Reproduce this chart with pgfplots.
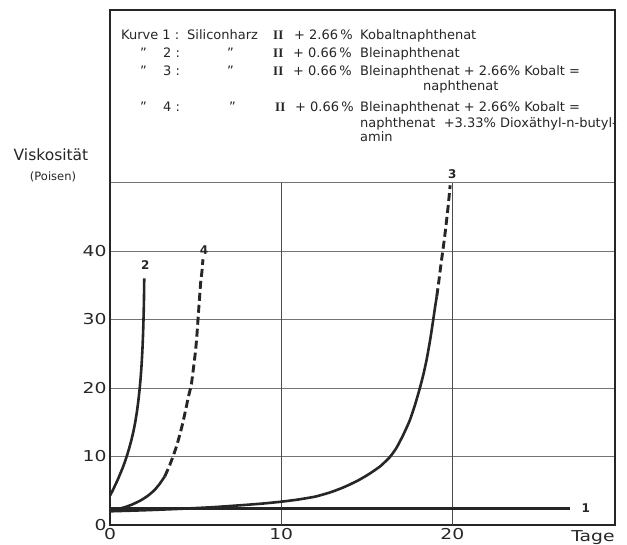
\documentclass[border=0pt]{standalone}
\usepackage{fontspec}
\setmainfont{DejaVu Sans}
\newfontfamily\romanfont{Liberation Serif}
\newfontfamily\tickfont{DejaVu Sans}[FakeStretch=1.25]
\usepackage{pgfplots}
\pgfplotsset{compat=1.18}
\newcommand\T[3]{\node[anchor=base west,inner sep=0pt,font=\fontsize{13}{15}\selectfont,text=black!85] at (#1,{545-#2}) {#3};}
\newcommand\RII{{\romanfont\bfseries II}}
\begin{document}
\begin{tikzpicture}[x=1pt,y=1pt]
\useasboundingbox (0,0) rectangle (627,545);
\begin{axis}[
  at={(110pt,20pt)}, anchor=south west,
  scale only axis, width=505pt, height=515pt,
  xmin=0, xmax=29.5, ymin=0, ymax=75.2,
  axis line style={line width=1.8pt, black!85},
  xtick={0,10,20}, ytick={0,10,20,30,40,50},
  yticklabels={0,10,20,30,40,},
  ymajorgrids, grid style={line width=1pt, black!55},
  major tick length=0pt,
  tick label style={font=\tickfont\fontsize{15}{15}\selectfont, text=black!85},
  /pgf/number format/assume math mode=true,
  clip=false,
]
\draw[black!70, line width=0.8pt] (axis cs:10,0) -- (axis cs:10,50);
\draw[black!70, line width=0.8pt] (axis cs:20,0) -- (axis cs:20,50);
% Kurve 1
\addplot[black!85, line width=2.6pt] coordinates {(0,2.4) (26.9,2.4)};
% Kurve 2
\addplot[black!85, line width=2.6pt, smooth, tension=0.3] coordinates {
(0,4.3) (0.15,5.0) (0.3,5.8) (0.45,6.6) (0.6,7.5) (0.75,8.4) (0.88,9.3) (1.0,10.2) (1.13,11.3) (1.26,12.5) (1.38,13.8) (1.48,15.1) (1.57,16.5) (1.65,18.0) (1.72,19.6) (1.78,21.2) (1.84,23.2) (1.89,25.4) (1.93,27.8) (1.96,30.3) (1.985,33) (2.0,36)};
% Kurve 4 solid
\addplot[black!85, line width=2.6pt, smooth, tension=0.3] coordinates {
(0,2.1) (0.4,2.3) (0.87,2.6) (1.3,3.0) (1.8,3.6) (2.23,4.3) (2.6,5.1) (2.9,6.0) (3.2,7.1)};
% Kurve 4 dashed
\addplot[black!85, line width=2.9pt, dash pattern=on 8pt off 4pt, smooth, tension=0.3] coordinates {
(3.2,7.1) (3.45,8.5) (3.68,10) (3.9,11.6) (4.1,13.4) (4.26,15) (4.42,16.8) (4.57,18.6) (4.75,20.5) (4.88,23) (5.0,25.5) (5.08,27.8) (5.14,30) (5.22,32.8) (5.3,35.5) (5.37,37) (5.43,38.8)};
% Kurve 3 solid
\addplot[black!85, line width=2.6pt, smooth, tension=0.3] coordinates {
(0,2.0) (2,2.15) (4,2.35) (6,2.6) (8,2.95) (9,3.15) (10,3.4) (11,3.72) (12,4.15) (12.85,4.75) (13.5,5.35) (14.0,5.9) (14.6,6.65) (15.17,7.5) (15.8,8.6) (16.34,9.9) (16.72,11.2) (17.1,13.0) (17.5,15.2) (17.8,17.4) (18.08,19.8) (18.3,21.9) (18.5,24.2) (18.7,27) (18.86,29.6) (19.0,32) (19.09,33.4)};
% Kurve 3 dashed
\addplot[black!85, line width=2.9pt, dash pattern=on 8pt off 4pt, smooth, tension=0.3] coordinates {
(19.09,33.4) (19.21,35.6) (19.33,38) (19.44,40) (19.55,42.1) (19.64,44) (19.76,46.7) (19.87,49.6)};
\node[font=\fontsize{12}{12}\selectfont\bfseries, text=black!85] at (axis cs:27.8,2.4) {1};
\node[font=\fontsize{12}{12}\selectfont\bfseries, text=black!85] at (axis cs:2.06,38.0) {2};
\node[font=\fontsize{12}{12}\selectfont\bfseries, text=black!85] at (axis cs:20.0,51.3) {3};
\node[font=\fontsize{12}{12}\selectfont\bfseries, text=black!85] at (axis cs:5.5,40.2) {4};
\end{axis}
% legend text
\T{121}{40}{Kurve 1 :}
\T{187}{40}{Siliconharz}
\T{273}{40}{\RII}
\T{294}{40}{+ 2.66\,\%}
\T{360}{40}{Kobaltnaphthenat}
\T{140}{57.5}{"}
\T{163}{57.5}{2 :}
\T{227}{57.5}{"}
\T{273}{57.5}{\RII}
\T{293}{57.5}{+ 0.66\,\%}
\T{360}{57.5}{Bleinaphthenat}
\T{140}{75.5}{"}
\T{163}{75.5}{3 :}
\T{227}{75.5}{"}
\T{273}{75.5}{\RII}
\T{293}{75.5}{+ 0.66\,\%}
\T{360}{75.5}{Bleinaphthenat + 2.66\% Kobalt =}
\T{423}{91}{naphthenat}
\T{140}{111.5}{"}
\T{163}{111.5}{4 :}
\T{229}{111.5}{"}
\T{275}{111.5}{\RII}
\T{295}{111.5}{+ 0.66\,\%}
\T{360}{111.5}{Bleinaphthenat + 2.66\% Kobalt =}
\T{360}{128}{naphthenat \ +3.33\% Dioxäthyl-n-butyl-}
\T{360}{142}{amin}
\node[font=\fontsize{15.5}{16}\selectfont, text=black!85] at (51,390) {Viskosität};
\node[font=\fontsize{11.5}{12}\selectfont, text=black!85] at (53,368) {(Poisen)};
\node[font=\tickfont\fontsize{15}{16}\selectfont, text=black!85] at (593,7) {Tage};
\end{tikzpicture}
\end{document}
